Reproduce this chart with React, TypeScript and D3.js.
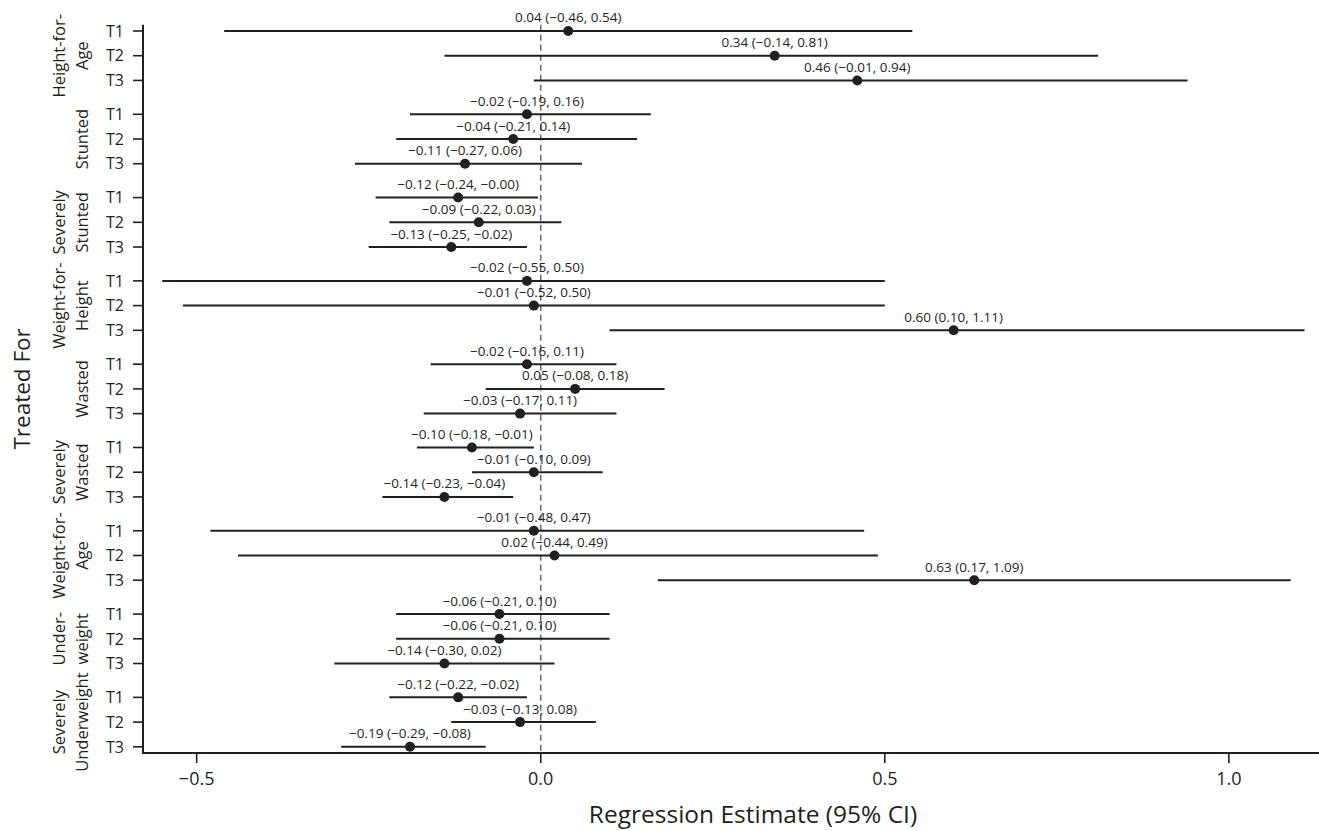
import React from "react";
import * as d3 from "d3";

const groups = [
  "Height-for-Age", "Stunted", "Severely Stunted",
  "Weight-for-Height", "Wasted", "Severely Wasted",
  "Weight-for-Age", "Underweight", "Severely Underweight",
];
const groupLabelLines = [
  ["Height-for-", "Age"], ["Stunted"], ["Severely", "Stunted"],
  ["Weight-for-", "Height"], ["Wasted"], ["Severely", "Wasted"],
  ["Weight-for-", "Age"], ["Under-", "weight"], ["Severely", "Underweight"],
];
const treatments = ["T1", "T2", "T3"];

// per group: [T1, T2, T3]
const estimates = [
  [0.04, 0.34, 0.46],
  [-0.02, -0.04, -0.11],
  [-0.12, -0.09, -0.13],
  [-0.02, -0.01, 0.60],
  [-0.02, 0.05, -0.03],
  [-0.10, -0.01, -0.14],
  [-0.01, 0.02, 0.63],
  [-0.06, -0.06, -0.14],
  [-0.12, -0.03, -0.19],
];
const lowers = [
  [-0.46, -0.14, -0.01],
  [-0.19, -0.21, -0.27],
  [-0.24, -0.22, -0.25],
  [-0.55, -0.52, 0.10],
  [-0.16, -0.08, -0.17],
  [-0.18, -0.10, -0.23],
  [-0.48, -0.44, 0.17],
  [-0.21, -0.21, -0.30],
  [-0.22, -0.13, -0.29],
];
const uppers = [
  [0.54, 0.81, 0.94],
  [0.16, 0.14, 0.06],
  [-0.004, 0.03, -0.02],
  [0.50, 0.50, 1.11],
  [0.11, 0.18, 0.11],
  [-0.01, 0.09, -0.04],
  [0.47, 0.49, 1.09],
  [0.10, 0.10, 0.02],
  [-0.02, 0.08, -0.08],
];
const xTicks = [-0.5, 0, 0.5, 1.0];

const FONT = "'Open Sans', 'Noto Sans', sans-serif";
const INK = "#231f20";

function fmt(v: number, digits: number) {
  const s = Math.abs(v).toFixed(digits);
  return (v < 0 ? "\u2212" : "") + s;
}

export default function App() {
  const W = 1319, H = 831;
  const left = 143, right = 1319, top = 24.8, bottom = 753;
  const x = d3.scaleLinear().domain([-0.578, 1.131]).range([left, right]);
  const yG = d3.scaleBand<string>().domain(groups).range([top, bottom]).paddingInner(0.258).paddingOuter(0);
  const yT = d3.scalePoint<string>().domain(treatments).range([0, yG.bandwidth()]).padding(0.25);

  const rows = groups.flatMap((g, gi) =>
    treatments.map((t, ti) => ({
      g, t, gi, ti,
      est: estimates[gi][ti], lo: lowers[gi][ti], hi: uppers[gi][ti],
      y: (yG(g) as number) + (yT(t) as number),
    }))
  );

  return (
    <svg width={W} height={H} style={{ position: "absolute", left: 0, top: 0, background: "#fff" }} fontFamily={FONT}>
      <rect width={W} height={H} fill="#fff" />
      {/* zero reference line */}
      <line x1={x(0)} x2={x(0)} y1={top} y2={bottom} stroke="#6d6e71" strokeWidth={1.6} strokeDasharray="6,4" />
      {/* CI lines */}
      {rows.map((r, i) => (
        <line key={"l" + i} x1={x(r.lo)} x2={x(r.hi)} y1={r.y} y2={r.y} stroke={INK} strokeWidth={2} />
      ))}
      {rows.map((r, i) => (
        <circle key={"c" + i} cx={x(r.est)} cy={r.y} r={5} fill={INK} />
      ))}
      {rows.map((r, i) => (
        <text key={"t" + i} x={x(r.est)} y={r.y - 8.5} textAnchor="middle" fontSize={13.5} fill={INK}>
          {`${fmt(r.est, 2)} (${fmt(r.lo, 2)}, ${fmt(r.hi, 2)})`}
        </text>
      ))}
      {/* axes */}
      <line x1={left} x2={left} y1={top} y2={bottom + 1} stroke={INK} strokeWidth={2} />
      <line x1={left - 1} x2={right} y1={bottom} y2={bottom} stroke={INK} strokeWidth={2} />
      {rows.map((r, i) => (
        <g key={"yt" + i}>
          <line x1={left - 10} x2={left} y1={r.y} y2={r.y} stroke={INK} strokeWidth={1.6} />
          <text x={left - 19} y={r.y} dy="0.36em" textAnchor="end" fontSize={16} fill={INK}>{r.t}</text>
        </g>
      ))}
      {groups.map((g, gi) => {
        const cy = (yG(g) as number) + (yT("T2") as number);
        const lines = groupLabelLines[gi];
        return (
          <g key={"g" + gi}>
            {lines.map((ln, li) => {
              const bx = 88 - (lines.length - 1 - li) * 23;
              return (
                <text key={li} transform={`translate(${bx},${cy}) rotate(-90)`} textAnchor="middle" fontSize={16.5} fill={INK}>{ln}</text>
              );
            })}
          </g>
        );
      })}
      {xTicks.map((v, i) => (
        <g key={"xt" + i}>
          <line x1={x(v)} x2={x(v)} y1={bottom} y2={bottom + 10} stroke={INK} strokeWidth={1.6} />
          <text x={x(v)} y={bottom + 32} textAnchor="middle" fontSize={18} fill={INK}>{fmt(v, 1)}</text>
        </g>
      ))}
      <text x={753} y={823} textAnchor="middle" fontSize={24.5} fill={INK}>Regression Estimate (95% CI)</text>
      <text transform={`translate(30,${(top + bottom) / 2}) rotate(-90)`} textAnchor="middle" fontSize={22.5} fill={INK}>Treated For</text>
    </svg>
  );
}
